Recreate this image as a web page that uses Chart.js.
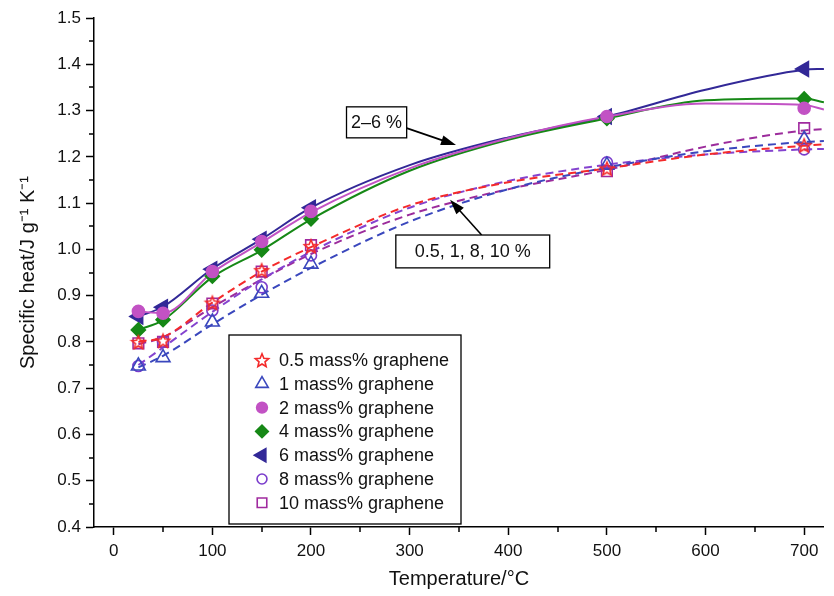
<!DOCTYPE html>
<html>
<head>
<meta charset="utf-8">
<script src="https://cdn.jsdelivr.net/npm/chart.js@4.4.0/dist/chart.umd.min.js"></script>
<style>
  html, body { margin: 0; padding: 0; background: #fff; }
</style>
</head>
<body>
<canvas id="chart" width="834" height="596"></canvas>
<script>
// measured temperatures (°C) and fitted-curve sample temperatures
const temps = [25, 50, 100, 150, 200, 500, 700];
const curveTemps = [25, 50, 100, 150, 200, 300, 400, 500, 600, 700, 720];

// specific heat, J g-1 K-1, measured points
const cp05 = [0.800, 0.803, 0.885, 0.955, 1.007, 1.175, 1.225];
const cp1  = [0.748, 0.766, 0.843, 0.905, 0.968, 1.182, 1.238];
const cp2  = [0.866, 0.862, 0.952, 1.017, 1.082, 1.287, 1.305];
const cp4  = [0.826, 0.848, 0.942, 0.999, 1.066, 1.283, 1.325];
const cp6  = [0.855, 0.875, 0.957, 1.022, 1.090, 1.287, 1.390];
const cp8  = [0.748, 0.800, 0.868, 0.918, 0.987, 1.188, 1.216];
const cp10 = [0.797, 0.800, 0.883, 0.952, 1.009, 1.169, 1.262];

// fitted curves, sampled at curveTemps
const fit05 = [0.800, 0.810, 0.885, 0.952, 1.005, 1.095, 1.145, 1.175, 1.205, 1.224, 1.227];
const fit1  = [0.745, 0.770, 0.838, 0.902, 0.960, 1.060, 1.130, 1.177, 1.212, 1.232, 1.234];
const fit2  = [0.866, 0.862, 0.950, 1.015, 1.080, 1.175, 1.240, 1.287, 1.315, 1.312, 1.302];
const fit4  = [0.826, 0.847, 0.940, 0.998, 1.065, 1.170, 1.237, 1.283, 1.322, 1.326, 1.318];
const fit6  = [0.855, 0.876, 0.958, 1.022, 1.090, 1.182, 1.242, 1.287, 1.345, 1.388, 1.390];
const fit8  = [0.750, 0.788, 0.865, 0.935, 0.995, 1.090, 1.148, 1.183, 1.205, 1.216, 1.217];
const fit10 = [0.795, 0.810, 0.875, 0.935, 0.990, 1.075, 1.130, 1.172, 1.222, 1.257, 1.260];

const seriesLabels = [
  '0.5 mass% graphene', '1 mass% graphene', '2 mass% graphene', '4 mass% graphene',
  '6 mass% graphene', '8 mass% graphene', '10 mass% graphene'
];

const FONT = "'Liberation Sans', Arial, Helvetica, sans-serif";

// five-pointed outline star, Chart.js has only the asterisk style
function starImage(color, r) {
  const size = Math.ceil(r * 2 + 4);
  const c = document.createElement('canvas');
  c.width = c.height = size;
  const g = c.getContext('2d');
  g.strokeStyle = color;
  g.lineWidth = 1.6;
  g.beginPath();
  for (let i = 0; i < 10; i++) {
    const rad = i % 2 ? r * 0.45 : r;
    const a = -Math.PI / 2 + i * Math.PI / 5;
    const px = size / 2 + rad * Math.cos(a);
    const py = size / 2 + rad * Math.sin(a) + 0.8;
    if (i) g.lineTo(px, py); else g.moveTo(px, py);
  }
  g.closePath();
  g.stroke();
  return c;
}

const series = [
  { label: seriesLabels[0], pts: cp05, fit: fit05, color: '#f42a2a', line: '#f42a2a', dash: true,
    style: starImage('#f42a2a', 7), radius: 7, rot: 0, fill: 'rgba(0,0,0,0)' },
  { label: seriesLabels[1], pts: cp1, fit: fit1, color: '#3a47bd', line: '#3a47bd', dash: true,
    style: 'triangle', radius: 8, rot: 0, fill: 'rgba(0,0,0,0)' },
  { label: seriesLabels[2], pts: cp2, fit: fit2, color: '#c252c4', line: '#c252c4', dash: false,
    style: 'circle', radius: 6, rot: 0, fill: '#c252c4' },
  { label: seriesLabels[3], pts: cp4, fit: fit4, color: '#168816', line: '#168816', dash: false,
    style: 'rectRot', radius: 7, rot: 0, fill: '#168816' },
  { label: seriesLabels[4], pts: cp6, fit: fit6, color: '#322897', line: '#322897', dash: false,
    style: 'triangle', radius: 8.5, rot: -90, fill: '#322897' },
  { label: seriesLabels[5], pts: cp8, fit: fit8, color: '#7a3ccc', line: '#8443cf', dash: true,
    style: 'circle', radius: 5.5, rot: 0, fill: 'rgba(0,0,0,0)' },
  { label: seriesLabels[6], pts: cp10, fit: fit10, color: '#a02a9f', line: '#9c2c9c', dash: true,
    style: 'rect', radius: 7.5, rot: 0, fill: 'rgba(0,0,0,0)' }
];

function toPoints(xs, ys) {
  return xs.map((x, i) => ({ x: x, y: ys[i] }));
}

const datasets = [];
series.forEach(s => {
  datasets.push({
    label: s.label + ' fit',
    data: toPoints(curveTemps, s.fit),
    borderColor: s.line,
    borderWidth: 2,
    borderDash: s.dash ? [8, 5] : [],
    pointRadius: 0,
    cubicInterpolationMode: 'monotone',
    fill: false,
    order: 2
  });
});
series.forEach(s => {
  datasets.push({
    label: s.label,
    data: toPoints(temps, s.pts),
    showLine: false,
    pointStyle: s.style,
    pointRadius: s.radius,
    pointRotation: s.rot,
    pointBackgroundColor: s.fill,
    pointBorderColor: s.color,
    pointBorderWidth: 1.6,
    order: 1
  });
});

function isMajor(v, step) {
  return Math.abs(v / step - Math.round(v / step)) < 1e-6;
}

// minor ticks, half the length of the major ones
const minorTicks = {
  id: 'minorTicks',
  afterDraw(chart) {
    const { ctx, chartArea, scales } = chart;
    ctx.save();
    ctx.strokeStyle = '#000';
    ctx.lineWidth = 1.5;
    ctx.beginPath();
    for (let v = 50; v <= 700; v += 100) {
      const px = Math.round(scales.x.getPixelForValue(v));
      ctx.moveTo(px, chartArea.bottom);
      ctx.lineTo(px, chartArea.bottom + 5);
    }
    for (let v = 0.45; v < 1.5; v += 0.1) {
      const py = Math.round(scales.y.getPixelForValue(v));
      ctx.moveTo(chartArea.left - 5, py);
      ctx.lineTo(chartArea.left, py);
    }
    ctx.stroke();
    ctx.restore();
  }
};

// labelled boxes with arrows, placed in data coordinates
const notes = [
  { text: '2\u20136 %', x0: 236, x1: 297, y0: 1.308, y1: 1.241, from: [297, 1.262], to: [347, 1.2255] },
  { text: '0.5, 1, 8, 10 %', x0: 286, x1: 442, y0: 1.031, y1: 0.960, from: [373, 1.031], to: [341, 1.107] }
];

function arrow(ctx, x1, y1, x2, y2) {
  const a = Math.atan2(y2 - y1, x2 - x1);
  const len = 15, half = 5;
  ctx.beginPath();
  ctx.moveTo(x1, y1);
  ctx.lineTo(x2 - Math.cos(a) * len * 0.8, y2 - Math.sin(a) * len * 0.8);
  ctx.stroke();
  ctx.beginPath();
  ctx.moveTo(x2, y2);
  ctx.lineTo(x2 - Math.cos(a) * len - Math.sin(a) * half, y2 - Math.sin(a) * len + Math.cos(a) * half);
  ctx.lineTo(x2 - Math.cos(a) * len + Math.sin(a) * half, y2 - Math.sin(a) * len - Math.cos(a) * half);
  ctx.closePath();
  ctx.fill();
}

const annotations = {
  id: 'annotations',
  afterDatasetsDraw(chart) {
    const { ctx, scales: { x, y } } = chart;
    ctx.save();
    notes.forEach(n => {
      const l = x.getPixelForValue(n.x0), r = x.getPixelForValue(n.x1);
      const t = y.getPixelForValue(n.y0), b = y.getPixelForValue(n.y1);
      ctx.strokeStyle = '#000';
      ctx.fillStyle = '#000';
      ctx.lineWidth = 1.6;
      arrow(ctx, x.getPixelForValue(n.from[0]), y.getPixelForValue(n.from[1]),
        x.getPixelForValue(n.to[0]), y.getPixelForValue(n.to[1]));
      ctx.fillStyle = '#fff';
      ctx.fillRect(l, t, r - l, b - t);
      ctx.lineWidth = 1.3;
      ctx.strokeRect(l, t, r - l, b - t);
      ctx.fillStyle = '#111';
      ctx.font = '18px ' + FONT;
      ctx.textAlign = 'center';
      ctx.textBaseline = 'middle';
      ctx.fillText(n.text, (l + r) / 2, (t + b) / 2 + 1);
    });
    ctx.restore();
  }
};

// legend box in the lower middle of the plot
const innerLegend = {
  id: 'innerLegend',
  afterDraw(chart) {
    const { ctx } = chart;
    const box = { left: 229, top: 335, right: 461, bottom: 524 };
    ctx.save();
    ctx.fillStyle = '#fff';
    ctx.fillRect(box.left, box.top, box.right - box.left, box.bottom - box.top);
    ctx.strokeStyle = '#000';
    ctx.lineWidth = 1.3;
    ctx.strokeRect(box.left, box.top, box.right - box.left, box.bottom - box.top);
    ctx.font = '18px ' + FONT;
    ctx.textAlign = 'left';
    ctx.textBaseline = 'middle';
    series.forEach((s, i) => {
      const cy = 360 + i * 23.8;
      const cx = 262;
      ctx.fillStyle = s.fill;
      ctx.strokeStyle = s.color;
      ctx.lineWidth = 1.6;
      Chart.helpers.drawPoint(ctx, {
        pointStyle: s.style, radius: s.radius * 0.9, rotation: s.rot, borderWidth: 1.6
      }, cx, cy);
      ctx.fillStyle = '#111';
      ctx.fillText(s.label, 279, cy + 1);
    });
    ctx.restore();
  }
};

new Chart(document.getElementById('chart'), {
  type: 'line',
  data: { datasets: datasets },
  options: {
    responsive: false,
    devicePixelRatio: 1,
    animation: false,
    layout: { padding: { top: 18, right: 6, left: 0, bottom: 0 } },
    plugins: {
      legend: { display: false },
      tooltip: { enabled: false }
    },
    scales: {
      x: {
        type: 'linear',
        min: -20,
        max: 720,
        afterFit(scale) { scale.height = 69; },
        border: { display: true, color: '#000', width: 1.5 },
        grid: {
          display: true,
          drawOnChartArea: false,
          drawTicks: true,
          tickLength: 8,
          tickWidth: 1.5,
          tickColor: '#000'
        },
        ticks: {
          stepSize: 100,
          includeBounds: false,
          autoSkip: false,
          maxRotation: 0,
          padding: 6,
          color: '#111',
          font: { family: FONT, size: 17 },
          callback: v => String(v)
        },
        title: {
          display: true,
          text: 'Temperature/\u00b0C',
          color: '#111',
          font: { family: FONT, size: 20 },
          padding: { top: 0, bottom: 5 }
        }
      },
      y: {
        min: 0.4,
        max: 1.5,
        afterFit(scale) { scale.width = 94; },
        border: { display: true, color: '#000', width: 1.5 },
        grid: {
          display: true,
          drawOnChartArea: false,
          drawTicks: true,
          tickLength: 8,
          tickWidth: 1.5,
          tickColor: '#000'
        },
        ticks: {
          stepSize: 0.1,
          autoSkip: false,
          padding: 5,
          color: '#111',
          font: { family: FONT, size: 17 },
          callback: v => isMajor(v, 0.1) ? Number(v).toFixed(1) : ''
        },
        title: {
          display: true,
          text: 'Specific heat/J g\u207b\u00b9 K\u207b\u00b9',
          color: '#111',
          font: { family: FONT, size: 20 },
          padding: { top: 16, bottom: 0 }
        }
      }
    }
  },
  plugins: [minorTicks, annotations, innerLegend]
});
</script>
</body>
</html>
